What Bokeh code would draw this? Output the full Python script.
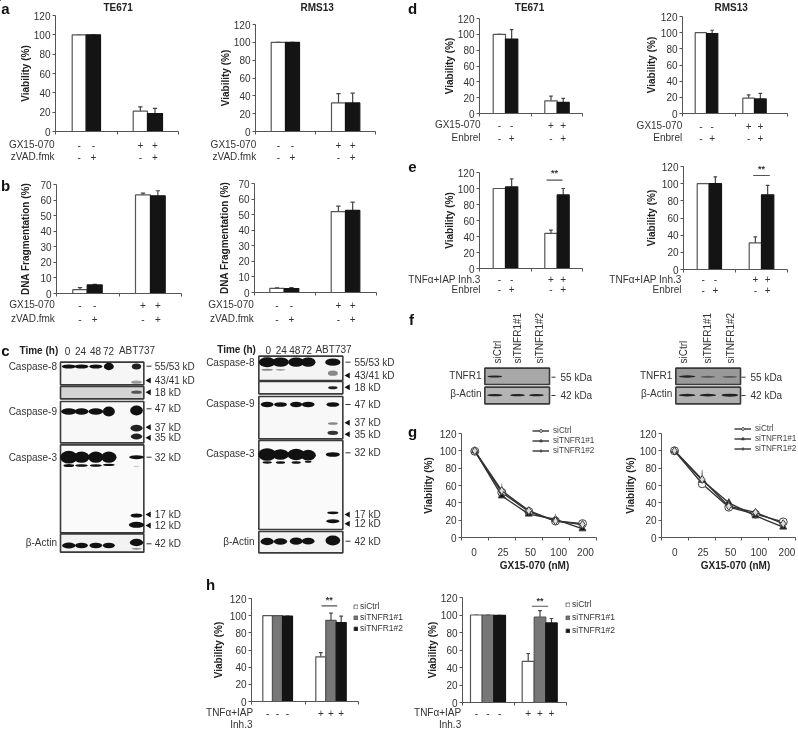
from math import pi
from bokeh.embed import file_html
from bokeh.resources import INLINE
from bokeh.plotting import figure
from bokeh.models import (Range1d, FixedTicker, Legend, LegendItem, ColumnDataSource, Column)
from bokeh.core.properties import value

FONT = "Liberation Sans"
INK = "#333333"
AXC = "#555555"
SOFT = "blur(0.35px)"

# ---------- chart values ----------
via_ticks = [0, 20, 40, 60, 80, 100, 120]
dna_ticks = [0, 10, 20, 30, 40, 50, 60, 70]

a1_open, a1_open_top, a1_fill, a1_fill_top = [100, 21], [100, 25.5], [100, 18.5], [100, 24]
a2_open, a2_open_top, a2_fill, a2_fill_top = [100, 32], [100, 42.5], [100, 32], [100, 43]
b1_open, b1_open_top, b1_fill, b1_fill_top = [2.5, 63.3], [3.8, 64.5], [5.5, 62.7], [5.8, 66]
b2_open, b2_open_top, b2_fill, b2_fill_top = [2.7, 52], [3, 55.5], [2.5, 52.7], [3.2, 58]
d1_open, d1_open_top, d1_fill, d1_fill_top = [100, 16], [100, 22], [94, 14], [106, 19]
d2_open, d2_open_top, d2_fill, d2_fill_top = [100, 19], [100, 23], [99, 18], [103, 25]
e1_open, e1_open_top, e1_fill, e1_fill_top = [100, 44], [100, 48], [102, 92], [112, 100]
e2_open, e2_open_top, e2_fill, e2_fill_top = [100, 31], [100, 38], [100, 87], [108, 98]

h1_ctrl, h1_ctrl_top = [100, 52], [100, 57]
h1_si1, h1_si1_top = [100, 94.5], [100, 103]
h1_si2, h1_si2_top = [99.5, 92], [99.5, 99.5]
h2_ctrl, h2_ctrl_top = [100, 47], [100, 56]
h2_si1, h2_si1_top = [100, 97.5], [100, 105]
h2_si2, h2_si2_top = [99.5, 91], [99.5, 96]

dose_labels = ["0", "25", "50", "100", "200"]
g1_ctrl, g1_ctrl_top = [99.5, 52, 30, 19, 16], [100, 58, 34, 23, 20]
g1_si1, g1_si1_top = [100, 48, 27, 21, 10], [100, 55, 35, 27, 12]
g1_si2, g1_si2_top = [100, 54, 31, 19, 15], [100, 62, 35, 27, 19]
g2_ctrl, g2_ctrl_top = [100, 62, 35, 27, 18], [100, 70, 38, 30, 21]
g2_si1, g2_si1_top = [100, 66, 40, 25, 12], [100, 75, 45, 28, 14]
g2_si2, g2_si2_top = [100, 67, 36, 29, 16], [100, 78, 42, 34, 19]

treat_off_on = ["-", "-", "+", "+"]
treat_alt = ["-", "+", "-", "+"]
h_signs = ["-", "-", "-", "+", "+", "+"]
si_names = ["siCtrl", "siTNFR1#1", "siTNFR1#2"]

# ---------- page-wide layer for texts, legends and side marks ----------
lab = figure(width=798, height=729, x_range=Range1d(0, 798), y_range=Range1d(729, 0),
             output_backend="svg", toolbar_location=None, tools="", min_border=0, frame_align=False,
             x_axis_location=None, y_axis_location=None, outline_line_color=None,
             background_fill_color=None, border_fill_color=None,
             styles={"position": "absolute", "left": "0px", "top": "0px", "filter": SOFT})
lab.grid.visible = False


def T(s, x, y, align="left", size="10px", style="normal", angle=0, color=INK):
    lab.text(x=[x], y=[y], text=[s], text_align=align, text_baseline="middle",
             text_font=value(FONT), text_font_size=size, text_font_style=style,
             text_color=color, angle=angle)


def base_fig(L, R, T_, B, ymax, ticks, ncat, ylabel, ylab_x, pb=14, pr=6, pt=9):
    L, R, T_, B = round(L), round(R), round(T_), round(B)
    pl = round(L - ylab_x + 16)
    p = figure(width=pl + (R - L) + pr, height=pt + (B - T_) + pb,
               x_range=Range1d(0, ncat), y_range=Range1d(0, ymax),
               output_backend="svg", toolbar_location=None, tools="", frame_align=False,
               min_border_left=pl, min_border_right=pr, min_border_top=pt, min_border_bottom=pb,
               background_fill_color=None, border_fill_color=None, outline_line_color=None,
               styles={"position": "absolute", "left": f"{L - pl}px", "top": f"{T_ - pt}px", "filter": SOFT})
    p.grid.visible = False
    ya = p.yaxis[0]
    ya.ticker = FixedTicker(ticks=ticks)
    ya.axis_label = ylabel
    ya.axis_label_text_font = FONT
    ya.axis_label_text_font_style = "bold"
    ya.axis_label_text_font_size = "10px"
    ya.axis_label_text_color = "#222222"
    w = 6 * len(str(ticks[-1])) - 1
    ya.axis_label_standoff = max(int(L - 6 - w - (ylab_x + 8)), 0)
    xa = p.xaxis[0]
    xa.ticker = FixedTicker(ticks=list(range(ncat + 1)))
    xa.major_label_overrides = {i: "" for i in range(ncat + 1)}
    xa.major_label_standoff = 0
    xa.major_label_text_font_size = "1px"
    for a in (xa, ya):
        a.axis_line_color = AXC
        a.major_tick_line_color = AXC
        a.minor_tick_line_color = None
        a.major_tick_out = 3
        a.major_tick_in = 0
        a.major_label_text_font = FONT
        a.major_label_text_color = INK
    ya.major_label_text_font_size = "10px"
    ya.major_label_standoff = 2
    X = lambda px: (px - L) / (R - L) * ncat
    return p, X


def page_legend(items, lx, lbottom, glyph_w, glyph_h, sp, standoff, size, color):
    leg = Legend(items=items, location=(lx, 729 - lbottom), glyph_width=glyph_w, glyph_height=glyph_h,
                 spacing=sp, padding=0, margin=0, label_standoff=standoff, label_text_font=FONT,
                 label_text_font_size=size, label_text_color=color, border_line_color=None,
                 background_fill_color=None, label_height=glyph_h)
    lab.add_layout(leg, "center")


def bars(L, R, T_, B, ymax, ticks, ylabel, ylab_x, edges, series, rows, sig=None, legend=None):
    p, X = base_fig(L, R, T_, B, ymax, ticks, 2, ylabel, ylab_x)
    for i, (vals, tops, fill, name) in enumerate(series):
        xs = [X((g[i] + g[i + 1]) / 2) for g in edges]
        ws = [X(g[i + 1]) - X(g[i]) for g in edges]
        src = ColumnDataSource(dict(x=xs, w=ws, v=vals, t=tops, b=[0] * len(vals),
                                    c0=[x - 0.035 for x in xs], c1=[x + 0.035 for x in xs]))
        p.segment("x", "v", "x", "t", source=src, line_color="#444444", line_width=1.2)
        p.segment("c0", "t", "c1", "t", source=src, line_color="#444444", line_width=1.2)
        p.vbar(x="x", width="w", top="v", bottom="b", source=src, fill_color=fill,
               line_color="#555555" if fill != "#141414" else "#141414", line_width=1.2)
    order = sorted((g[i] + g[i + 1]) / 2 for g in edges for i in range(len(series)))
    for text, rx, ry, signs in rows:
        T(text, rx, ry, align="right")
        for x, s in zip(order, signs):
            T(s, x, ry, align="center")
    if sig:
        x0, x1, yv, star_y = sig
        p.segment(x0=[X(x0)], y0=[yv], x1=[X(x1)], y1=[yv], line_color=AXC, line_width=1.2)
        T("**", (x0 + x1) / 2, star_y, align="center", size="9px", style="bold")
    if legend:
        lx, lb, sp = legend
        items = []
        for vals, tops, fill, name in series:
            # off-page stand-in whose only job is to give the legend key its style
            key = lab.vbar(x=[-50], top=[-50], bottom=[-60], width=1, fill_color=fill,
                           line_color="#555555", line_width=0.8)
            items.append(LegendItem(label=value(name), renderers=[key]))
        page_legend(items, lx, lb, 5, 5, sp, 2, "8.5px", INK)
    return p


def lines(L, R, T_, B, ylab_x, data_px, label_units, series, leg):
    p, X = base_fig(L, R, T_, B, 120, via_ticks, 5, "Viability (%)", ylab_x, pb=30, pr=3)
    xa = p.xaxis[0]
    xa.ticker = FixedTicker(ticks=label_units, minor_ticks=[0, 1, 2, 3, 4, 5])
    xa.major_tick_out = 0
    xa.minor_tick_out = 3
    xa.minor_tick_in = 0
    xa.minor_tick_line_color = AXC
    xa.major_label_overrides = {u: s for u, s in zip(label_units, dose_labels)}
    xa.major_label_text_font_size = "10px"
    xa.major_label_standoff = 7
    xs = [X(px) for px in data_px]
    items = []
    for vals, tops, marker, fc, name, size in series:
        src = ColumnDataSource(dict(x=xs, v=vals, t=tops))
        p.segment("x", "v", "x", "t", source=src, line_color="#888888", line_width=1)
        p.line("x", "v", source=src, line_color="#333333", line_width=1.4)
        p.scatter("x", "v", source=src, marker=marker, size=size, fill_color=fc,
                  line_color="#444444", line_width=1)
        dl = lab.line(x=[-50, -40], y=[-50, -50], line_color="#333333", line_width=1.4)
        dm = lab.scatter(x=[-50], y=[-50], marker=marker, size=size - 1, fill_color=fc,
                         line_color="#444444", line_width=1)
        items.append(LegendItem(label=value(name), renderers=[dl, dm]))
    lx, lb = leg
    page_legend(items, lx, lb, 17, 7, 1, 4, "8.2px", "#444444")
    return p


W, K, G = "#ffffff", "#141414", "#777777"


def two(a, at, b, bt):
    return [(a, at, W, ""), (b, bt, K, "")]


charts = [
    bars(55, 178, 15, 131, 120, via_ticks, "Viability (%)", 26,
         [[71.7, 85.7, 100], [132.7, 147, 162]], two(a1_open, a1_open_top, a1_fill, a1_fill_top),
         [("GX15-070", 54, 144, treat_off_on), ("zVAD.fmk", 54, 156, treat_alt)]),
    bars(255, 375, 24, 131, 120, via_ticks, "Viability (%)", 224.5,
         [[270.7, 285, 299], [331, 345, 359.3]], two(a2_open, a2_open_top, a2_fill, a2_fill_top),
         [("GX15-070", 255.7, 144, treat_off_on), ("zVAD.fmk", 255.7, 156, treat_alt)]),
    bars(56, 181, 184, 293, 70, dna_ticks, "DNA Fragmentation (%)", 25,
         [[72.3, 86.7, 101.7], [135, 150, 164.7]], two(b1_open, b1_open_top, b1_fill, b1_fill_top),
         [("GX15-070", 54.3, 304.3, treat_off_on), ("zVAD.fmk", 54.3, 318.3, treat_alt)]),
    bars(254, 376, 183, 292, 70, dna_ticks, "DNA Fragmentation (%)", 224,
         [[269.3, 283.7, 298.3], [330.7, 345, 359.3]], two(b2_open, b2_open_top, b2_fill, b2_fill_top),
         [("GX15-070", 253.3, 304.3, treat_off_on), ("zVAD.fmk", 253.3, 318.3, treat_alt)]),
    bars(479, 582, 18, 113, 120, via_ticks, "Viability (%)", 448,
         [[492.7, 505, 517.3], [544.3, 556.7, 568.7]], two(d1_open, d1_open_top, d1_fill, d1_fill_top),
         [("GX15-070", 480, 124.3, treat_off_on), ("Enbrel", 480, 137.3, treat_alt)]),
    bars(682, 787, 16, 113, 120, via_ticks, "Viability (%)", 650,
         [[694.7, 706, 717.3], [742.3, 754, 765.7]], two(d2_open, d2_open_top, d2_fill, d2_fill_top),
         [("GX15-070", 681.7, 125, treat_off_on), ("Enbrel", 681.7, 137, treat_alt)]),
    bars(479, 582, 172, 268, 120, via_ticks, "Viability (%)", 448,
         [[492.7, 505, 517.3], [544.3, 556.7, 568.7]], two(e1_open, e1_open_top, e1_fill, e1_fill_top),
         [("TNF\u03b1+IAP Inh.3", 480, 278.7, treat_off_on), ("Enbrel", 480, 288.7, treat_alt)],
         sig=(546, 562, 110.5, 172)),
    bars(683, 787, 166, 269, 120, via_ticks, "Viability (%)", 650,
         [[696.7, 708.7, 721], [748.7, 761, 773.3]], two(e2_open, e2_open_top, e2_fill, e2_fill_top),
         [("TNF\u03b1+IAP Inh.3", 681, 278.7, treat_off_on), ("Enbrel", 681, 289, treat_alt)],
         sig=(752.7, 769.3, 109.5, 168)),
    bars(251, 358, 598, 701, 120, via_ticks, "Viability (%)", 217,
         [[262.3, 272, 282, 292], [315.3, 325.3, 335.7, 345.7]],
         [(h1_ctrl, h1_ctrl_top, W, si_names[0]), (h1_si1, h1_si1_top, G, si_names[1]),
          (h1_si2, h1_si2_top, K, si_names[2])],
         [("TNF\u03b1+IAP", 252.7, 712, h_signs), ("Inh.3", 252, 724, [])],
         sig=(321, 336.7, 111.5, 599.7), legend=(353, 633, 1)),
    bars(462, 566, 597, 702, 120, via_ticks, "Viability (%)", 431,
         [[470, 481.7, 493.3, 505], [521.7, 533.7, 545.3, 556.7]],
         [(h2_ctrl, h2_ctrl_top, W, si_names[0]), (h2_si1, h2_si1_top, G, si_names[1]),
          (h2_si2, h2_si2_top, K, si_names[2])],
         [("TNF\u03b1+IAP", 460.7, 712, h_signs), ("Inh.3", 460.7, 724, [])],
         sig=(531.3, 547.7, 110, 600), legend=(565, 635, 3)),
    lines(461, 596, 433, 537, 427, [474.3, 501.3, 528.3, 555, 582],
          [0.46, 1.54, 2.56, 3.6, 4.59],
          [(g1_ctrl, g1_ctrl_top, "circle", W, si_names[0], 8),
           (g1_si1, g1_si1_top, "triangle", K, si_names[1], 7),
           (g1_si2, g1_si2_top, "diamond", "#dddddd", si_names[2], 8)], (532, 455)),
    lines(661, 795, 433, 537, 628.5, [674, 701.7, 728.3, 755, 782.7],
          [0.5, 1.55, 2.58, 3.63, 4.68],
          [(g2_ctrl, g2_ctrl_top, "circle", W, si_names[0], 8),
           (g2_si1, g2_si1_top, "triangle", K, si_names[1], 7),
           (g2_si2, g2_si2_top, "diamond", "#dddddd", si_names[2], 8)], (734, 453)),
]

# ---------- western blots ----------
gel = figure(width=798, height=729, x_range=Range1d(0, 798), y_range=Range1d(729, 0),
             output_backend="svg", toolbar_location=None, tools="", min_border=0, frame_align=False,
             x_axis_location=None, y_axis_location=None, outline_line_color=None,
             background_fill_color=None, border_fill_color=None,
             styles={"position": "absolute", "left": "0px", "top": "0px", "filter": "blur(0.6px)"})
gel.grid.visible = False

c1_lanes = [205, 243, 286, 325, 408]
c2_lanes = [200, 240, 287, 323, 397]
f1_lanes = [283, 351, 408]
f2_lanes = [860, 922, 988]
D = "#111111"

blots = [
    # origin, lanes, boxes, bands (lane, y, w, h, colour)
    ((0, 330), c1_lanes,
     [(180, 95, 430, 163, "#f6f6f6"), (180, 168, 430, 205, "#d4d4d4"), (180, 213, 430, 337, "#f8f8f8"),
      (180, 343, 430, 607, "#fafafa"), (180, 610, 430, 665, "#f2f2f2")],
     [(0, 108, 42, 12, D), (1, 108, 42, 12, D), (2, 108, 40, 12, D), (3, 108, 30, 22, D), (4, 108, 28, 18, "#222222"),
      (4, 155, 32, 10, "#999999"), (4, 185, 32, 10, "#555555"),
      (0, 243, 46, 20, D), (1, 243, 42, 20, D), (2, 243, 44, 20, D), (3, 243, 36, 30, D), (4, 240, 38, 30, D),
      (4, 293, 36, 20, "#222222"), (4, 318, 34, 18, "#222222"),
      (0, 380, 52, 38, D), (1, 380, 48, 34, D), (2, 380, 46, 34, D), (3, 380, 46, 34, D),
      (0, 405, 32, 9, D), (1, 405, 38, 8, D), (2, 405, 36, 8, D), (3, 403, 36, 7, D),
      (4, 380, 44, 12, D), (4, 408, 20, 5, "#cccccc"), (4, 555, 36, 12, D), (4, 583, 46, 18, D),
      (0, 645, 40, 18, D), (1, 645, 38, 16, D), (2, 645, 38, 16, D), (3, 645, 36, 16, D),
      (4, 636, 40, 22, D), (4, 655, 30, 5, "#888888")]),
    ((200, 330), c2_lanes,
     [(175, 77, 427, 150, "#f4f4f4"), (175, 153, 427, 190, "#f6f6f6"), (175, 198, 427, 325, "#f8f8f8"),
      (175, 330, 427, 597, "#fafafa"), (175, 603, 427, 667, "#f2f2f2")],
     [(0, 95, 50, 30, D), (1, 95, 50, 28, D), (2, 95, 48, 28, D), (3, 95, 44, 28, D), (4, 95, 46, 22, D),
      (0, 118, 34, 6, "#888888"), (1, 118, 30, 5, "#999999"), (4, 128, 30, 16, "#888888"),
      (4, 172, 28, 9, "#222222"),
      (0, 222, 38, 16, D), (1, 222, 38, 14, D), (2, 222, 36, 16, D), (3, 222, 38, 16, D), (4, 222, 38, 14, D),
      (4, 279, 30, 8, "#888888"), (4, 307, 32, 13, "#333333"),
      (0, 372, 54, 38, D), (1, 372, 50, 32, D), (2, 372, 52, 34, D), (3, 374, 46, 32, D),
      (0, 396, 28, 7, D), (1, 396, 28, 8, D), (2, 396, 28, 8, D), (3, 394, 20, 6, D),
      (4, 372, 42, 14, D), (4, 547, 34, 8, D), (4, 572, 40, 12, D),
      (0, 633, 40, 22, D), (1, 633, 40, 20, D), (2, 632, 38, 22, D), (3, 632, 38, 20, D), (4, 630, 44, 30, D)]),
    ((400, 300), f1_lanes,
     [(253, 203, 447, 252, "#a8a8a8"), (253, 260, 447, 310, "#b4b4b4")],
     [(0, 228, 44, 6, "#222222"), (0, 284, 46, 7, "#222222"), (1, 284, 44, 7, "#222222"), (2, 284, 44, 7, "#222222")]),
    ((400, 300), f2_lanes,
     [(826, 203, 1020, 252, "#999999"), (826, 260, 1020, 310, "#b0b0b0")],
     [(0, 228, 50, 7, "#222222"), (1, 229, 44, 6, "#555555"), (2, 229, 46, 5, "#555555"),
      (0, 284, 50, 8, "#222222"), (1, 284, 50, 8, "#222222"), (2, 284, 50, 9, "#222222")]),
]
for (ox, oy), lanes_z, boxes, bands in blots:
    gel.quad(left=[ox + b[0] / 3 for b in boxes], right=[ox + b[2] / 3 for b in boxes],
             top=[oy + b[1] / 3 for b in boxes], bottom=[oy + b[3] / 3 for b in boxes],
             fill_color=[b[4] for b in boxes], line_color="#3a3a3a", line_width=1.6)
    gel.ellipse(x=[ox + lanes_z[b[0]] / 3 for b in bands], y=[oy + b[1] / 3 for b in bands],
                width=[b[2] / 3 for b in bands], height=[b[3] / 3 for b in bands],
                fill_color=[b[4] for b in bands], line_color=None)

# ---------- texts and marks around the blots and panels ----------
for s, x, y in [("a", 5, 8), ("b", 5, 185), ("c", 5, 350), ("d", 412, 8), ("e", 412, 166),
                ("f", 411, 319), ("g", 412, 431), ("h", 210, 584)]:
    T(s, x, y, align="center", size="15px", style="bold", color="#111111")
for s, x, y in [("TE671", 117.7, 7), ("RMS13", 316.7, 7), ("TE671", 529, 7), ("RMS13", 730.7, 7)]:
    T(s, x, y, align="center", style="bold", color="#222222")
T("GX15-070 (nM)", 534, 565, align="center", style="bold", color="#222222")
T("GX15-070 (nM)", 735, 565, align="center", style="bold", color="#222222")

T("Time (h)", 19, 350, style="bold", color="#222222")
for s, x in zip(["0", "24", "48", "72", "ABT737"], [67, 80, 95, 108, 136.5]):
    T(s, x, 350, align="center")
T("Time (h)", 216.7, 349.3, style="bold", color="#222222")
for s, x in zip(["0", "24", "48", "72", "ABT737"], [267.7, 280.7, 294.3, 306, 333]):
    T(s, x, 349.3, align="center")
for s, y in [("Caspase-8", 366), ("Caspase-9", 411), ("Caspase-3", 456.7), ("\u03b2-Actin", 541.7)]:
    T(s, 56.5, y, align="right")
for s, y in [("Caspase-8", 361.7), ("Caspase-9", 403.3), ("Caspase-3", 453.3), ("\u03b2-Actin", 540.7)]:
    T(s, 254, y, align="right")

marks_left = [("55/53 kD", 365.7, 0), ("43/41 kD", 380, 1), ("18 kD", 391.7, 1), ("47 kD", 408.3, 0),
              ("37 kD", 426.7, 1), ("35 kD", 437.3, 1), ("32 kD", 456.7, 0), ("17 kD", 514, 1),
              ("12 kD", 525, 1), ("42 kD", 543.3, 0)]
marks_right = [("55/53 kD", 361.7, 0), ("43/41 kD", 375, 1), ("18 kD", 386.7, 1), ("47 kD", 404, 0),
               ("37 kD", 422.3, 1), ("35 kD", 433.7, 1), ("32 kD", 452.3, 0), ("17 kD", 514, 1),
               ("12 kD", 523.3, 1), ("42 kD", 540.7, 0)]
for marks, tx, mx in [(marks_left, 154.3, 148.5), (marks_right, 354, 347.5)]:
    for s, y, arrow in marks:
        T(s, tx, y)
        if arrow:
            lab.scatter(x=[mx], y=[y], marker="triangle", angle=pi / 2, size=6,
                        fill_color="#111111", line_color=None)
        else:
            lab.segment(x0=[mx - 2.5], x1=[mx + 2.5], y0=[y], y1=[y], line_color=INK, line_width=1)

for rx, tx, dx in [(481, 560, 553), (671.7, 750, 743)]:
    T("TNFR1", rx, 375.3, align="right")
    T("\u03b2-Actin", rx, 393.3, align="right")
    T("55 kDa", tx, 376.7)
    T("42 kDa", tx, 395)
    for yy in (376.7, 395):
        lab.segment(x0=[dx - 2], x1=[dx + 2], y0=[yy], y1=[yy], line_color=INK, line_width=1)
for s, x in zip(si_names, [497.3, 517.3, 539.3]):
    T(s, x, 363, angle=pi / 2)
for s, x in zip(si_names, [683.3, 706.7, 730]):
    T(s, x, 363, angle=pi / 2)

root = Column(children=[gel, lab] + charts, width=798, height=729,
              styles={"position": "absolute", "left": "0px", "top": "0px"})
open("out.html", "w").write(file_html(root, INLINE))
